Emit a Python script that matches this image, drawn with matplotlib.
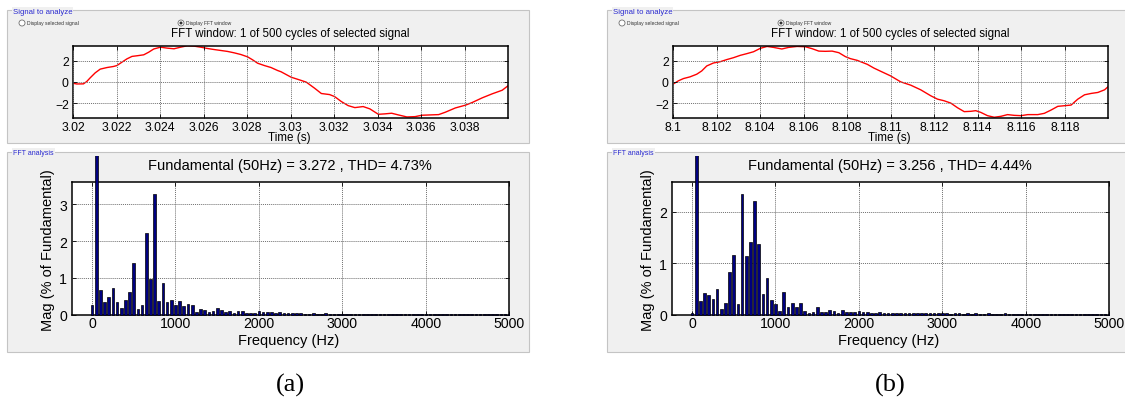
import matplotlib
matplotlib.use("Agg")
import matplotlib.pyplot as plt
import numpy as np
from matplotlib.patches import Rectangle, Ellipse

# ---------------- data ----------------
time_a = [3.02, 3.02017, 3.02048, 3.02063, 3.02079, 3.02102, 3.02125, 3.02156, 3.02186, 3.02202,
          3.02225, 3.02248, 3.02271, 3.02294, 3.02325, 3.02348, 3.02371, 3.02402, 3.02433, 3.02464,
          3.02494, 3.02525, 3.02556, 3.02587, 3.02617, 3.02648, 3.02679, 3.0271, 3.0274, 3.02771,
          3.02802, 3.02825, 3.02848, 3.02879, 3.0291, 3.0294, 3.02956, 3.03002, 3.03049, 3.03072,
          3.0311, 3.03141, 3.03179, 3.03202, 3.03233, 3.03264, 3.03295, 3.03333, 3.03364, 3.03403,
          3.03433, 3.03464, 3.03495, 3.03534, 3.03572, 3.03603, 3.03641, 3.0368, 3.0371, 3.03757,
          3.03803, 3.03834, 3.0388, 3.03926, 3.03972, 3.04]
sig_a = [-0.13, -0.2, -0.19, 0.03, 0.38, 0.85, 1.2, 1.35, 1.45, 1.54,
         1.86, 2.17, 2.4, 2.46, 2.55, 2.8, 3.1, 3.27, 3.18, 3.12,
         3.27, 3.4, 3.37, 3.27, 3.15, 3.05, 2.96, 2.87, 2.74, 2.58,
         2.36, 2.08, 1.76, 1.54, 1.35, 1.07, 0.95, 0.44, 0.13, -0.03,
         -0.6, -1.1, -1.2, -1.39, -1.86, -2.24, -2.43, -2.33, -2.55, -3.06,
         -3.02, -2.96, -3.12, -3.31, -3.28, -3.15, -3.12, -3.09, -2.87, -2.46,
         -2.2, -1.95, -1.51, -1.13, -0.79, -0.35]

time_b = [8.1, 8.10025, 8.10048, 8.10078, 8.10109, 8.10132, 8.10155, 8.10186, 8.10217, 8.10247,
          8.10278, 8.10309, 8.10339, 8.1037, 8.10401, 8.10432, 8.10462, 8.105, 8.10531, 8.1057,
          8.10608, 8.10639, 8.1067, 8.107, 8.10731, 8.10762, 8.10792, 8.10815, 8.10846, 8.10862,
          8.10893, 8.10923, 8.10954, 8.11, 8.11046, 8.11092, 8.11138, 8.11184, 8.11215, 8.11245,
          8.11276, 8.11307, 8.11338, 8.11368, 8.11391, 8.11414, 8.11445, 8.11476, 8.11507, 8.11537,
          8.11568, 8.11599, 8.1163, 8.11676, 8.11706, 8.11737, 8.11768, 8.11799, 8.11829, 8.1186,
          8.11891, 8.11922, 8.11952, 8.11983, 8.12]
sig_b = [-0.22, 0.1, 0.31, 0.47, 0.72, 1.03, 1.5, 1.78, 1.9, 2.1,
         2.28, 2.5, 2.66, 2.84, 3.16, 3.34, 3.25, 3.1, 3.25, 3.34,
         3.31, 3.13, 2.9, 2.88, 2.9, 2.75, 2.38, 2.19, 2.03, 1.9,
         1.65, 1.3, 1.0, 0.56, 0.0, -0.31, -0.75, -1.31, -1.63, -1.78,
         -2.0, -2.44, -2.81, -2.78, -2.72, -2.88, -3.19, -3.34, -3.25, -3.09,
         -3.16, -3.19, -3.09, -3.09, -2.97, -2.66, -2.31, -2.25, -2.19, -1.63,
         -1.22, -1.09, -1.0, -0.75, -0.44]

harmonic_order = np.arange(101)          # 0 (DC) .. 100
fund_freq = 50                           # Hz
mag_a = [0.27, 100, 0.66, 0.35, 0.48, 0.74, 0.35, 0.19, 0.41, 0.63,
         1.42, 0.15, 0.26, 2.22, 0.98, 3.29, 0.36, 0.86, 0.34, 0.39,
         0.26, 0.37, 0.24, 0.28, 0.27, 0.08, 0.15, 0.14, 0.08, 0.09,
         0.19, 0.12, 0.08, 0.09, 0.05, 0.10, 0.10, 0.05, 0.05, 0.05,
         0.10, 0.08, 0.06, 0.06, 0.05, 0.06, 0.04, 0.04, 0.05, 0.04,
         0.04, 0.03, 0.03, 0.04, 0.03, 0.03, 0.04, 0.03, 0.02, 0.03,
         0.03, 0.02, 0.03, 0.02, 0.02, 0.03, 0.02, 0.02, 0.02, 0.03,
         0.02, 0.02, 0.02, 0.02, 0.03, 0.02, 0.02, 0.02, 0.02, 0.02,
         0.02, 0.02, 0.02, 0.02, 0.02, 0.02, 0.02, 0.02, 0.02, 0.02,
         0.02, 0.02, 0.02, 0.02, 0.02, 0.02, 0.02, 0.02, 0.02, 0.02, 0.02]
mag_b = [0.04, 100, 0.26, 0.43, 0.39, 0.30, 0.50, 0.12, 0.23, 0.83,
         1.16, 0.20, 2.35, 1.14, 1.41, 2.20, 1.38, 0.40, 0.72, 0.29,
         0.20, 0.07, 0.44, 0.15, 0.23, 0.15, 0.23, 0.08, 0.03, 0.06,
         0.14, 0.06, 0.05, 0.10, 0.08, 0.04, 0.10, 0.06, 0.06, 0.06,
         0.07, 0.06, 0.05, 0.04, 0.04, 0.05, 0.04, 0.04, 0.03, 0.04,
         0.03, 0.04, 0.03, 0.03, 0.03, 0.03, 0.04, 0.03, 0.03, 0.03,
         0.03, 0.03, 0.02, 0.03, 0.03, 0.02, 0.03, 0.02, 0.03, 0.02,
         0.02, 0.03, 0.02, 0.02, 0.02, 0.03, 0.02, 0.02, 0.02, 0.02,
         0.02, 0.02, 0.02, 0.02, 0.02, 0.02, 0.02, 0.02, 0.02, 0.02,
         0.02, 0.02, 0.02, 0.02, 0.02, 0.02, 0.02, 0.02, 0.02, 0.02, 0.02]

time_ticks_a = [3.02, 3.022, 3.024, 3.026, 3.028, 3.03, 3.032, 3.034, 3.036, 3.038]
time_ticks_b = [8.1, 8.102, 8.104, 8.106, 8.108, 8.11, 8.112, 8.114, 8.116, 8.118]
sig_yticks = [-2, 0, 2]
freq_ticks = [0, 1000, 2000, 3000, 4000, 5000]
mag_yticks_a = [0, 1, 2, 3]
mag_yticks_b = [0, 1, 2]
fft_titles = ["Fundamental (50Hz) = 3.272 , THD= 4.73%",
              "Fundamental (50Hz) = 3.256 , THD= 4.44%"]
panel_tags = ["(a)", "(b)"]

# ---------------- layout ----------------
W, H = 1125, 410
fig = plt.figure(figsize=(W / 100, H / 100), dpi=100)
fig.patch.set_facecolor("white")
plt.rcParams["font.family"] = ["Liberation Sans", "DejaVu Sans"]


def fx(px):
    return px / W


def fy(py):
    return 1 - py / H


def box(x0, y0, x1, y1, **kw):
    r = Rectangle((fx(x0), fy(y1)), (x1 - x0) / W, (y1 - y0) / H,
                  transform=fig.transFigure, zorder=-5, **kw)
    fig.add_artist(r)
    return r


def style_axes(ax, fs, xpad, ypad):
    for s in ax.spines.values():
        s.set_linewidth(1.1)
        s.set_color("black")
    ax.tick_params(direction="in", length=3, width=0.6, top=True, right=True,
                   labelsize=fs, colors="black")
    ax.tick_params(axis="x", pad=xpad)
    ax.tick_params(axis="y", pad=ypad)
    ax.grid(True, color="#707070", linestyle=(0, (1, 1)), linewidth=0.7)
    ax.set_axisbelow(False)


panels = [
    dict(off=0, t=time_a, s=sig_a, tt=time_ticks_a, mag=mag_a, myt=mag_yticks_a, ymax=3.62),
    dict(off=600, t=time_b, s=sig_b, tt=time_ticks_b, mag=mag_b, myt=mag_yticks_b, ymax=2.58),
]

for i, p in enumerate(panels):
    o = p["off"]
    # group boxes
    box(o + 7, 11, o + 529, 144, facecolor="#f0f0f0", edgecolor="#c4c4c4", linewidth=0.8)
    box(o + 7, 153, o + 529, 353, facecolor="#f0f0f0", edgecolor="#c4c4c4", linewidth=0.8)
    fig.text(fx(o + 13), fy(12), "Signal to analyze", fontsize=5.6, color="#2a2ad0",
             ha="left", va="center",
             bbox=dict(facecolor="#f0f0f0", edgecolor="none", pad=0.6))
    fig.text(fx(o + 13), fy(154), "FFT analysis", fontsize=5.0, color="#2a2ad0",
             ha="left", va="center",
             bbox=dict(facecolor="#f0f0f0", edgecolor="none", pad=0.8))
    # radio buttons
    fig.add_artist(Ellipse((fx(o + 22), fy(24)), 6 / W, 6 / H, transform=fig.transFigure,
                           facecolor="white", edgecolor="#707070", linewidth=0.6))
    fig.text(fx(o + 27), fy(24), "Display selected signal", fontsize=3.6, color="#333333",
             ha="left", va="center")
    fig.add_artist(Ellipse((fx(o + 181), fy(24)), 6 / W, 6 / H, transform=fig.transFigure,
                           facecolor="white", edgecolor="#707070", linewidth=0.6))
    fig.add_artist(Ellipse((fx(o + 181), fy(24)), 3 / W, 3 / H, transform=fig.transFigure,
                           facecolor="#303030", edgecolor="none"))
    fig.text(fx(o + 186), fy(24), "Display FFT window", fontsize=3.6, color="#333333",
             ha="left", va="center")

    # ---- time-domain axes ----
    ax1 = fig.add_axes([fx(o + 73), fy(119), (435.3) / W, (119 - 46.7) / H])
    ax1.plot(p["t"], p["s"], color="red", linewidth=1.0)
    ax1.set_xlim(p["tt"][0], p["tt"][0] + 0.02)
    ax1.set_ylim(-3.41, 3.41)
    ax1.set_xticks(p["tt"])
    ax1.set_xticklabels(["%g" % v for v in p["tt"]])
    ax1.set_yticks(sig_yticks)
    style_axes(ax1, 8.7, 2.2, 3.0)
    ax1.set_facecolor("white")
    fig.text(fx(o + 290), fy(33.5), "FFT window: 1 of 500 cycles of selected signal",
             fontsize=8.3, ha="center", va="center")
    fig.text(fx(o + 289), fy(138.5), "Time (s)", fontsize=8.4, ha="center", va="center")

    # ---- FFT axes ----
    ax2 = fig.add_axes([fx(o + 72), fy(315.7), (437.3) / W, (315.7 - 182.7) / H])
    freqs = harmonic_order * fund_freq
    bars = ax2.bar(freqs, p["mag"], width=32, color="#000080", edgecolor="black",
                   linewidth=0.5, zorder=3)
    clip = Rectangle((fx(o + 72), 0), 438 / W, fy(156.5), transform=fig.transFigure)
    for b in bars.patches:
        b.set_clip_path(clip)
    ax2.set_xlim(-240, 5000)
    ax2.set_ylim(0, p["ymax"])
    ax2.set_xticks(freq_ticks)
    ax2.set_yticks(p["myt"])
    style_axes(ax2, 10.2, 1.0, 3.5)
    ax2.set_facecolor("white")
    fig.text(fx(o + 290), fy(166), fft_titles[i], fontsize=10.5, ha="center", va="center")
    fig.text(fx(o + 289), fy(341.5), "Frequency (Hz)", fontsize=10.5, ha="center", va="center")
    fig.text(fx(o + 48), fy(250.5), "Mag (% of Fundamental)", fontsize=10.5, rotation=90,
             ha="center", va="center")

    # panel tag
    fig.text(fx(o + 290), fy(385), panel_tags[i], fontsize=19, ha="center", va="center",
             family=["Liberation Serif", "DejaVu Serif"])

fig.savefig("out.png", dpi=100, facecolor="white")
